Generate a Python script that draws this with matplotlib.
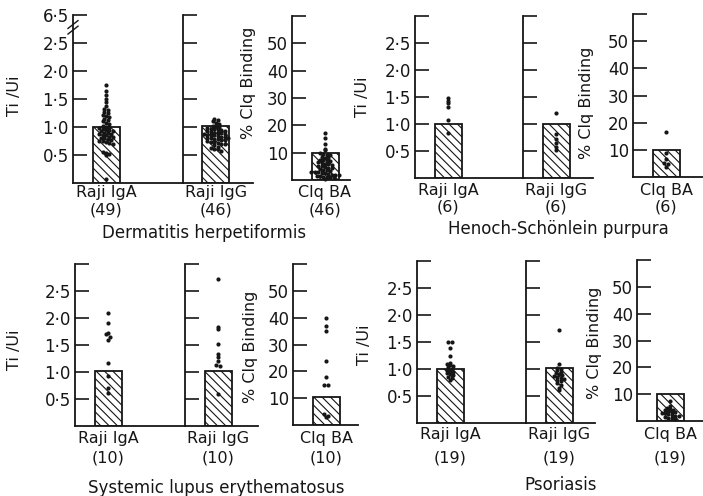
import numpy as np
import matplotlib.pyplot as plt

W, H = 703, 496

# ---- data ----
groups = ["Dermatitis herpetiformis", "Henoch-Schönlein purpura",
          "Systemic lupus erythematosus", "Psoriasis"]
assays = ["Raji IgA", "Raji IgG", "Clq BA"]
counts = [[49, 46, 46], [6, 6, 6], [10, 10, 10], [19, 19, 19]]

bar_iga = [1.0, 1.0, 1.01, 1.0]
bar_igg = [1.02, 1.0, 1.01, 1.02]
bar_clq = [9.8, 9.8, 10.4, 10.0]

dh_iga = [1.75, 1.65, 1.58, 1.5, 1.45, 1.38, 1.32, 1.3, 1.27, 1.25, 1.22, 1.2,
          1.17, 1.15, 1.12, 1.1, 1.08, 1.05, 1.02, 1.0, 1.0, 0.98, 0.97, 0.95,
          0.95, 0.93, 0.92, 0.9, 0.9, 0.88, 0.87, 0.85, 0.85, 0.83, 0.82, 0.8,
          0.8, 0.78, 0.77, 0.75, 0.75, 0.73, 0.72, 0.7, 0.55, 0.53, 0.52, 0.5, 0.08]
dh_igg = [1.15, 1.13, 1.1, 1.08, 1.05, 1.02, 1.0, 1.0, 0.98, 0.97, 0.96, 0.95,
          0.94, 0.93, 0.92, 0.91, 0.9, 0.9, 0.89, 0.88, 0.87, 0.86, 0.85, 0.85,
          0.84, 0.83, 0.82, 0.81, 0.8, 0.8, 0.79, 0.78, 0.77, 0.76, 0.75, 0.74,
          0.73, 0.72, 0.7, 0.69, 0.67, 0.65, 0.63, 0.61, 0.6, 0.58]
dh_clq = [17.3, 15.3, 13.2, 11.5, 11, 10, 9.5, 9.2, 9, 8.5, 8.2, 8, 7.5, 7.2, 7,
          6.8, 6.5, 6.2, 6, 5.8, 5.5, 5.2, 5, 4.8, 4.5, 4.3, 4, 3.8, 3.5, 3.3, 3,
          3, 2.8, 2.5, 2.5, 2.2, 2, 2, 1.8, 1.5, 1.5, 1.2, 1, 1, 0.8, 0.5]

hsp_iga = [1.48, 1.43, 1.38, 1.31, 1.07, 0.83]
hsp_igg = [1.2, 0.82, 0.72, 0.65, 0.58, 0.52]
hsp_clq = [16.7, 9, 6.8, 5.3, 4.8, 3.6]

sle_iga = [2.1, 1.9, 1.73, 1.7, 1.65, 1.6, 1.17, 0.92, 0.7, 0.62]
sle_igg = [2.72, 1.84, 1.79, 1.52, 1.33, 1.27, 1.2, 1.13, 1.12, 0.6]
sle_clq = [40, 37, 35, 24, 18, 15, 15, 4, 3.5, 3]

pso_iga = [1.5, 1.5, 1.38, 1.25, 1.12, 1.1, 1.08, 1.05, 1.03, 1.0, 0.98, 0.96,
           0.94, 0.92, 0.9, 0.88, 0.85, 0.83, 0.8]
pso_igg = [1.73, 1.1, 1.02, 1.0, 0.98, 0.95, 0.92, 0.9, 0.88, 0.87, 0.85, 0.84,
           0.82, 0.8, 0.78, 0.75, 0.7, 0.65, 0.62]
pso_clq = [7.3, 5.5, 5, 4.5, 4.2, 4, 3.8, 3.5, 3.3, 3, 2.8, 2.5, 2.3, 2, 1.8,
           1.5, 1.2, 1, 0.7]

iga_sets = [dh_iga, hsp_iga, sle_iga, pso_iga]
igg_sets = [dh_igg, hsp_igg, sle_igg, pso_igg]
clq_sets = [dh_clq, hsp_clq, sle_clq, pso_clq]

raji_ticks = [0.5, 1.0, 1.5, 2.0, 2.5, 3.0]
raji_labels = ["0·5", "1·0", "1·5", "2·0", "2·5", ""]
clq_ticks = [10, 20, 30, 40, 50, 60]
clq_labels = ["10", "20", "30", "40", "50", ""]

# ---- layout in pixels ----
# iga left, igg left, igg right, clq left, clq right, raji top/bottom, clq top/bottom
frames = [(73, 183, 253, 292, 350, 15, 183, 16, 180),
          (415, 523, 593, 633, 703, 16, 178, 14, 177),
          (75, 185, 258, 293, 358, 264, 426, 264, 425),
          (417, 526, 595, 637, 703, 261, 423, 260, 421)]
text_y = [(192, 210, 233), (190, 207, 229), (438, 458, 488), (435, 458, 485)]
title_x = [204, 558, 216, 561]
ti_pos = [(15, 96), (363, 97), (15, 350), (365, 345)]
clq_pos = [(248, 83), (587, 103), (250, 347), (595, 343)]
BX, BW = 33, 27
INK = "#161616"

fig = plt.figure(figsize=(W / 100, H / 100), dpi=100)
fig.patch.set_facecolor("white")
plt.rcParams["hatch.linewidth"] = 0.8


def ftext(x, y, s, **kw):
    fig.text(x / W, 1 - y / H, s, ha="center", va="center", color=INK, **kw)


def make_ax(x0, x1, ytop, ybot, top):
    ax = fig.add_axes([x0 / W, 1 - ybot / H, (x1 - x0) / W, (ybot - ytop) / H])
    ax.set_xlim(0, x1 - x0)
    ax.set_ylim(0, top)
    ax.patch.set_alpha(0)
    for s in ["top", "right"]:
        ax.spines[s].set_visible(False)
    for s in ["left", "bottom"]:
        ax.spines[s].set_linewidth(1.3)
        ax.spines[s].set_color(INK)
    ax.set_xticks([])
    ax.tick_params(axis="y", direction="in", length=10, width=1.2,
                   labelsize=12, pad=3, colors=INK)
    return ax


def swarm(vals, step, dx=3.4):
    vals = np.asarray(vals, float)
    keys = np.round(vals / step).astype(int)
    offs = np.zeros(len(vals))
    for k in np.unique(keys):
        idx = np.where(keys == k)[0]
        offs[idx] = (np.arange(len(idx)) - (len(idx) - 1) / 2) * dx
    return offs


def draw(ax, mean, vals, step):
    ax.bar(BX, mean, width=BW, facecolor="white", edgecolor=INK,
           hatch="\\\\\\\\", linewidth=1.3, zorder=2)
    ax.plot(BX + swarm(vals, step), vals, "o", ms=3.0, color=INK,
            mec="none", zorder=3, clip_on=False)


for i, (a0, g0, g1, c0, c1, rt, rb, ct, cb) in enumerate(frames):
    ax1 = make_ax(a0, g0, rt, rb, 3.0)
    ax2 = make_ax(g0, g1, rt, rb, 3.0)
    ax3 = make_ax(c0, c1, ct, cb, 60)

    labels = list(raji_labels)
    if i == 0:
        labels[-1] = "6·5"
        # axis break mark
        ax1.plot([-5, 5], [2.66, 2.8], color=INK, lw=1.0, clip_on=False)
        ax1.plot([-5, 5], [2.76, 2.9], color=INK, lw=1.0, clip_on=False)
    ax1.set_yticks(raji_ticks)
    ax1.set_yticklabels(labels)
    ax2.set_yticks(raji_ticks)
    ax2.set_yticklabels([])
    ax3.set_yticks(clq_ticks)
    ax3.set_yticklabels(clq_labels)

    draw(ax1, bar_iga[i], iga_sets[i], 0.06)
    draw(ax2, bar_igg[i], igg_sets[i], 0.06)
    draw(ax3, bar_clq[i], clq_sets[i], 1.2)

    y1, y2, yt = text_y[i]
    for x0, name, n in zip([a0, g0, c0], assays, counts[i]):
        ftext(x0 + BX, y1, name, fontsize=11.5)
        ftext(x0 + BX, y2, "(%d)" % n, fontsize=11.5)
    ftext(title_x[i], yt, groups[i], fontsize=12)
    ftext(ti_pos[i][0], ti_pos[i][1], "Ti /Ui", fontsize=11.5, rotation=90)
    ftext(clq_pos[i][0], clq_pos[i][1], "% Clq Binding", fontsize=11.5, rotation=90)

fig.savefig("out.png", dpi=100)
